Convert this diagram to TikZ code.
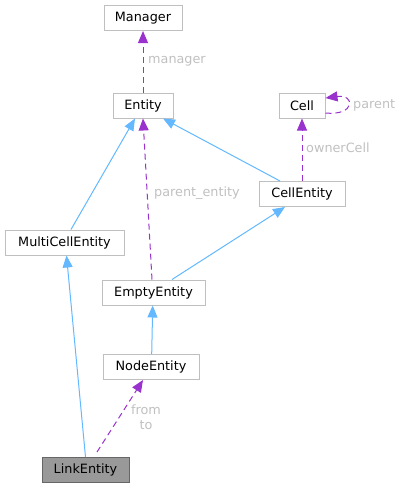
\documentclass[tikz,border=0pt]{standalone}
\usepackage{fontspec}
\setmainfont{DejaVu Sans}
\usetikzlibrary{arrows.meta,calc}
\definecolor{inh}{HTML}{63B8FF}
\definecolor{usage}{HTML}{9A32CD}
\definecolor{nodeborder}{HTML}{BFBFBF}
\definecolor{lbl}{HTML}{C0C0C0}
\tikzset{
  cls/.style={draw=nodeborder, line width=1pt, fill=white, minimum height=25pt, inner sep=0pt, font=\fontsize{12.8}{15}\selectfont, text=black},
  cur/.style={cls, draw=black!60, fill=black!40},
  inhedge/.style={draw=inh, line width=1pt, -{Triangle[length=12pt,width=10pt]}},
  useedge/.style={draw=usage, line width=1pt, dash pattern=on 6pt off 4pt, -{Triangle[length=12pt,width=10pt]}},
  elabel/.style={text=lbl, font=\fontsize{12.8}{15}\selectfont, inner sep=0pt, align=center}
}
\begin{document}
\begin{tikzpicture}[x=1pt,y=-1pt]
\useasboundingbox (0,0) rectangle (401,488);
\node[cls, minimum width=78pt] (manager) at (143,18) {Manager};
\node[cls, minimum width=60pt] (entity) at (143,105.5) {Entity};
\node[cls, minimum width=46pt] (cell) at (302,105.5) {Cell};
\node[cls, minimum width=86pt] (cellentity) at (302,194) {CellEntity};
\node[cls, minimum width=119pt] (multi) at (64.5,242.5) {MultiCellEntity};
\node[cls, minimum width=103pt] (empty) at (153.5,292.5) {EmptyEntity};
\node[cls, minimum width=96pt] (nodeent) at (151,367) {NodeEntity};
\node[cur, minimum width=87pt] (link) at (85.5,470) {LinkEntity};

% usage edges
\draw[useedge] (entity.north) -- (manager.south);
\node[elabel, anchor=west] (lmanager) at (148,61) {manager};

\draw[useedge] (cellentity.north) -- (cell.south);
\node[elabel, anchor=west] (lowner) at (306,148) {ownerCell};

\draw[useedge] ($(cell.east)+(0,7.5)$) .. controls +(30,3) and +(30,-4) .. ($(cell.east)+(0,-7.5)$);
\node[elabel, anchor=west] (lparent) at (353,105) {parent};

\draw[useedge] ($(empty.north)+(-1.5,0)$) -- (entity.south);
\node[elabel, anchor=west] (lpe) at (154,193) {parent\_entity};

\draw[useedge] ($(link.north)+(11.5,-5)$) -- ($(nodeent.south)+(-8,0)$);
\node[elabel] (lfromto) at (146,417.5) {from\\to};

% inheritance edges
\draw[inhedge] ($(multi.north)+(6.5,0)$) -- ($(entity.south)+(-8,0)$);
\draw[inhedge] ($(cellentity.north)+(-22,0)$) -- ($(entity.south)+(20,0)$);
\draw[inhedge] ($(empty.north)+(18.5,0)$) -- ($(cellentity.south)+(-17,0)$);
\draw[inhedge] ($(nodeent.north)+(0.7,0)$) -- ($(empty.south)+(-0.8,0)$);
\draw[inhedge] (link.north) -- ($(multi.south)+(2,0)$);
\end{tikzpicture}
\end{document}
